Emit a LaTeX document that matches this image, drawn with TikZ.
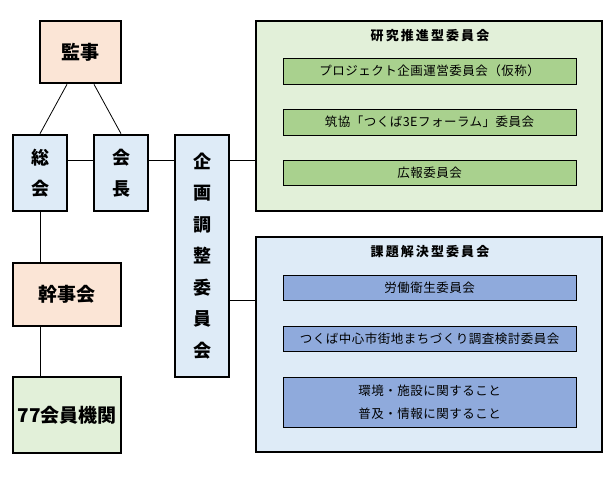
\documentclass[tikz,border=0pt]{standalone}
\usepackage{fontspec}
\newfontfamily\jp{Noto Sans CJK JP}
\newfontfamily\jpin[LetterSpace=4]{Noto Sans CJK JP}
\newfontfamily\jpsp[LetterSpace=16]{Noto Sans CJK JP}
\usetikzlibrary{calc}
\definecolor{peach}{HTML}{FBE5D6}
\definecolor{lblue}{HTML}{DEEBF7}
\definecolor{lgreen}{HTML}{E2F0D9}
\definecolor{mgreen}{HTML}{A9D18E}
\definecolor{mblue}{HTML}{8FAADC}
\tikzset{
  bigbox/.style={draw=black, line width=2.6pt, rectangle, inner sep=0pt},
  vtext/.style={align=center, font=\jp\bfseries\fontsize{18}{31.5}\selectfont},
  htext/.style={font=\jp\bfseries\fontsize{19}{22}\selectfont},
  innerbox/.style={draw=black, line width=1pt, rectangle, inner sep=0pt, minimum width=293pt, font=\jpin\fontsize{12.5}{23}\selectfont, align=center},
  ttl/.style={font=\jpsp\bfseries\fontsize{13}{15}\selectfont, inner sep=0pt},
  conn/.style={draw=black, line width=0.8pt}
}
\begin{document}
\begin{tikzpicture}[x=1pt,y=-1pt]
\useasboundingbox (0,0) rectangle (607,485);
\coordinate (row) at (0,160);
\coordinate (row2) at (0,300);
% big boxes
\node[bigbox, fill=peach, minimum width=81pt, minimum height=62pt, htext] (kanji) at (80.5,52) {監事};
\node[bigbox, fill=lblue, minimum width=54pt, minimum height=76pt, vtext] (sokai) at (40,173) {総\\会};
\node[bigbox, fill=lblue, minimum width=54pt, minimum height=76pt, vtext] (kaicho) at (121,173) {会\\長};
\node[bigbox, fill=lblue, minimum width=54pt, minimum height=242pt, vtext] (kikaku) at (202,256) {企\\画\\調\\整\\委\\員\\会};
\node[bigbox, fill=peach, minimum width=108pt, minimum height=63pt, htext] (kanjikai) at (67,294.5) {幹事会};
\node[bigbox, fill=lgreen, minimum width=108pt, minimum height=76pt, htext] (member) at (67,415) {77会員機関};
\node[bigbox, fill=lgreen, minimum width=346pt, minimum height=190pt] (kenkyu) at (429,116) {};
\node[bigbox, fill=lblue, minimum width=346pt, minimum height=215pt] (kadai) at (429,344.5) {};
% titles
\node[ttl] (t1) at (430,36) {研究推進型委員会};
\node[ttl] (t2) at (430,251.5) {課題解決型委員会};
% inner boxes
\node[innerbox, fill=mgreen, minimum height=26pt] (g1) at (429.5,71) {プロジェクト企画運営委員会（仮称）};
\node[innerbox, fill=mgreen, minimum height=26pt] (g2) at (429.5,122) {筑協「つくば3Eフォーラム」委員会};
\node[innerbox, fill=mgreen, minimum height=25pt] (g3) at (429.5,172.5) {広報委員会};
\node[innerbox, fill=mblue, minimum height=25pt] (b1) at (429.5,287.5) {労働衛生委員会};
\node[innerbox, fill=mblue, minimum height=25pt] (b2) at (429.5,338.5) {つくば中心市街地まちづくり調査検討委員会};
\node[innerbox, fill=mblue, minimum height=50pt] (b3) at (429.5,402) {環境・施設に関すること\\普及・情報に関すること};
% connectors
\draw[conn] ([xshift=-13.5pt]kanji.south) -- (sokai.north);
\draw[conn] ([xshift=13.5pt]kanji.south) -- (kaicho.north);
\draw[conn] (sokai.east |- row) -- (kaicho.west |- row);
\draw[conn] (kaicho.east |- row) -- (kikaku.west |- row);
\draw[conn] (kikaku.east |- row) -- (kenkyu.west |- row);
\draw[conn] (kikaku.east |- row2) -- (kadai.west |- row2);
\draw[conn] (sokai.south) -- (sokai.south |- kanjikai.north);
\draw[conn] (kanjikai.south -| sokai.south) -- (member.north -| sokai.south);
\end{tikzpicture}
\end{document}
